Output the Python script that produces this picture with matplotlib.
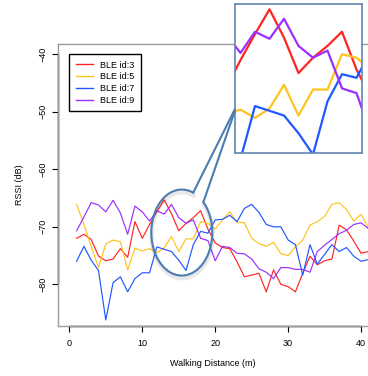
import numpy as np
import matplotlib
matplotlib.use('Agg')
import matplotlib.pyplot as plt
from matplotlib.patches import ConnectionPatch
from matplotlib import patheffects

plt.rcParams['font.family'] = ['Liberation Sans', 'DejaVu Sans']

# walking distance (m) and RSSI per beacon
distance = np.arange(1, 42)
rssi_3 = [-72.0, -71.3, -72.2, -75.1, -75.9, -75.6, -73.8, -75.3, -69.1, -72.0,
          -69.6, -67.4, -65.3, -67.7, -70.7, -69.4, -68.4, -67.2, -70.4, -72.8,
          -73.6, -73.8, -76.1, -78.7, -78.4, -78.1, -81.3, -77.5, -80.0, -80.4,
          -81.3, -78.1, -75.1, -76.6, -75.9, -75.6, -69.7, -70.5, -72.5, -74.6, -74.3]
rssi_5 = [-66.1, -69.6, -73.4, -77.1, -73.0, -72.3, -72.6, -77.5, -73.7, -74.2,
          -73.8, -74.5, -73.7, -71.7, -74.3, -72.1, -72.1, -69.1, -69.4, -70.4,
          -68.8, -67.4, -69.2, -69.3, -72.0, -72.9, -73.4, -72.7, -74.7, -75.0,
          -73.5, -72.3, -69.7, -69.1, -68.2, -66.1, -65.8, -67.0, -69.0, -67.8, -70.2]
rssi_7 = [-76.0, -73.4, -75.8, -77.6, -86.2, -79.7, -78.7, -81.3, -79.0, -78.0,
          -78.0, -73.5, -73.9, -74.3, -75.8, -77.6, -73.1, -70.8, -71.1, -68.8,
          -68.7, -68.0, -69.1, -66.8, -66.1, -67.5, -69.6, -70.0, -70.0, -72.3,
          -73.1, -78.4, -73.1, -76.5, -74.8, -73.1, -74.3, -73.6, -75.1, -76.0, -75.7]
rssi_9 = [-70.7, -68.3, -65.8, -66.2, -67.4, -65.4, -67.6, -71.3, -66.4, -67.4,
          -69.0, -67.2, -67.8, -66.1, -68.4, -69.4, -68.8, -72.0, -72.4, -75.9,
          -73.4, -73.6, -74.6, -74.7, -75.6, -77.3, -77.9, -79.0, -77.1, -77.1,
          -77.4, -77.4, -77.9, -74.3, -73.2, -72.2, -71.2, -70.6, -69.6, -69.3, -70.3]
labels = ['BLE id:3', 'BLE id:5', 'BLE id:7', 'BLE id:9']
colors = ['#ff2424', '#ffc21e', '#2058ff', '#9a30ff']
xticks = [0, 10, 20, 30, 40]
yticks = [-80, -70, -60, -50, -40]
series = [rssi_3, rssi_5, rssi_7, rssi_9]

W, H = 368, 376
fig = plt.figure(figsize=(W / 100, H / 100), dpi=100)
ax = fig.add_axes([57.5 / W, 1 - 326 / H, (W - 57.5) / W, (326 - 43.7) / H])

for vals, c, lab in zip(series, colors, labels):
    ax.plot(distance, vals, color=c, lw=0.85, label=lab)

ax.set_xlim(-1.62, 40.95)
ax.set_ylim(-87.25, -38.16)

# R style box in grey, black axis lines over the tick range
for s in ['top', 'left', 'bottom']:
    ax.spines[s].set_color('#9c9c9c')
    ax.spines[s].set_linewidth(1.0)
ax.spines['right'].set_visible(False)
ax.plot([xticks[0], xticks[-1]], [0, 0], transform=ax.get_xaxis_transform(),
        color='k', lw=1.0, clip_on=False)
ax.plot([0, 0], [yticks[0], yticks[-1]], transform=ax.get_yaxis_transform(),
        color='k', lw=1.0, clip_on=False)

ax.set_xticks(xticks)
ax.set_yticks(yticks)
ax.tick_params(direction='out', length=4, width=0.8, color='k', labelsize=6.5)
ax.tick_params(axis='x', pad=5)
ax.tick_params(axis='y', pad=3.5, labelrotation=90)
for lbl in ax.get_yticklabels():
    lbl.set_va('center')

ax.set_xlabel('Walking Distance (m)', fontsize=6.5, va='center')
ax.xaxis.set_label_coords(0.5, -(364 - 326) / (326 - 43.7))
ax.set_ylabel('RSSI (dB)', fontsize=6.5, va='center')
ax.yaxis.set_label_coords((20 - 57.5) / (W - 57.5), 0.5)

leg = ax.legend(loc='upper left', bbox_to_anchor=(69.3 / W, 1 - 54.3 / H),
                bbox_transform=fig.transFigure, fontsize=6.5, frameon=True,
                fancybox=False, edgecolor='k', framealpha=1, borderaxespad=0,
                handlelength=1.9, handletextpad=0.8, labelspacing=0.3, borderpad=0.7)
leg.get_frame().set_linewidth(1.0)
for h in leg.get_lines():
    h.set_linewidth(1.0)

# zoomed inset
axins = fig.add_axes([234.7 / W, 1 - 152.7 / H, (362.3 - 234.7) / W, (152.7 - 4) / H])
for vals, c in zip(series, colors):
    axins.plot(distance, vals, color=c, lw=1.6)
axins.set_xlim(10.6, 19.4)
axins.set_ylim(-77.45, -64.85)
axins.set_xticks([])
axins.set_yticks([])
callout = '#4d7db0'
for s in axins.spines.values():
    s.set_color('#6386b0')
    s.set_linewidth(1.2)

# callout bubble around the zoomed region
cx, cy, a, b = 15.42, -71.0, 4.18, 7.48
t = np.linspace(np.radians(68), np.radians(45) + 2 * np.pi, 300)
shadow = [patheffects.SimpleLineShadow(offset=(0.3, -2), shadow_color='k', alpha=0.09, linewidth=3),
          patheffects.Normal()]
ax.plot(cx + a * np.cos(t), cy + b * np.sin(t), color=callout, lw=1.5,
        clip_on=False, path_effects=shadow, zorder=5)
for ang, yb in [(68, 0.29), (45, 0.277)]:
    p = (cx + a * np.cos(np.radians(ang)), cy + b * np.sin(np.radians(ang)))
    con = ConnectionPatch(xyA=p, coordsA=ax.transData, xyB=(0, yb), coordsB=axins.transAxes,
                          color=callout, lw=1.5)
    fig.add_artist(con)

fig.savefig('out.png', dpi=100)
